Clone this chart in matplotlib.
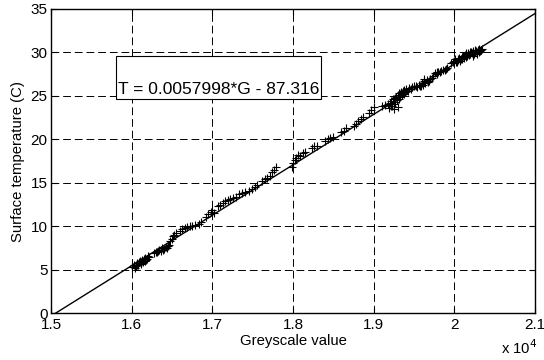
import matplotlib
matplotlib.use("Agg")
import matplotlib.pyplot as plt
from matplotlib.patches import Rectangle

plt.rcParams['font.family'] = ['Liberation Sans', 'DejaVu Sans']

# Fit coefficients
slope = 0.0057998
intercept = -87.316
fit_g = [15000, 21000]

# Measured points (greyscale value, temperature)
g_vals = [
    16010, 16030, 16050, 16060, 16080, 16090, 16100, 16120, 16130, 16150,
    16160, 16170, 16190, 16200, 16210, 16040, 16070, 16110, 16140, 16180,
    16280, 16300, 16320, 16340, 16360, 16380, 16400, 16420, 16440, 16460,
    16330, 16390, 16450,
    16480, 16500, 16510, 16530, 16550,
    16600, 16630, 16660, 16690, 16720, 16750, 16790, 16830, 16860,
    16920, 16950, 16980, 17000, 17020,
    17070, 17100, 17130, 17160, 17190, 17220, 17260, 17290,
    17330, 17370, 17410, 17450, 17490, 17530, 17550,
    17620, 17650, 17680, 17710, 17740, 17770, 17790,
    17990, 18000, 18020, 18040, 18060, 18090, 18120, 18150,
    18230, 18260, 18300,
    18400, 18430, 18460, 18500,
    18600, 18630, 18660,
    18750, 18780, 18810, 18840, 18870,
    18940, 18970, 19000,
    19100, 19140, 19180,
    19190, 19200, 19210, 19220, 19230, 19240, 19250, 19260, 19270, 19280,
    19290, 19300, 19310, 19320, 19330, 19340, 19350, 19360, 19370, 19380,
    19390, 19400, 19420, 19440, 19460, 19480, 19500, 19520, 19250, 19300,
    19540, 19560, 19580, 19600, 19610, 19620, 19640, 19660, 19680, 19700,
    19720, 19740, 19590, 19630, 19670,
    19760, 19780, 19800, 19820, 19840, 19860, 19880, 19900, 19910, 19790,
    19960, 19980, 20000, 20010, 20020, 20040, 20050, 20060, 20080, 20090,
    20100, 20110, 20120, 20130, 20140, 20150, 20160, 20170, 20180, 20190,
    20200, 20210, 20220, 20230, 20240, 20250, 20260, 20270, 20280, 20290,
    20300, 20310, 20320, 20330, 20340, 20030, 20070, 20150, 20230, 20280,
]
t_vals = [
    5.3, 5.5, 5.4, 5.8, 5.6, 5.9, 6.0, 5.7, 6.1, 6.2,
    6.0, 6.4, 6.3, 6.6, 6.5, 5.2, 5.5, 5.8, 5.9, 6.1,
    6.9, 7.1, 7.0, 7.3, 7.2, 7.5, 7.4, 7.6, 7.5, 7.9,
    7.2, 7.3, 7.7,
    8.3, 8.6, 8.9, 9.0, 9.2,
    9.5, 9.7, 9.8, 9.9, 10.0, 10.0, 10.1, 10.3, 10.5,
    11.1, 11.4, 11.6, 11.9, 11.5,
    12.3, 12.5, 12.7, 12.9, 13.0, 13.1, 13.3, 13.4,
    13.7, 13.8, 14.0, 14.1, 14.3, 14.5, 14.7,
    15.2, 15.4, 15.6, 15.8, 16.2, 16.5, 16.8,
    16.8, 17.3, 17.6, 17.9, 18.2, 18.1, 18.4, 18.6,
    19.0, 19.2, 19.3,
    19.8, 20.0, 20.2, 20.3,
    20.9, 21.0, 21.3,
    21.5, 21.8, 22.1, 22.3, 22.6,
    23.0, 23.4, 23.7,
    23.9, 24.0, 24.1,
    23.6, 24.2, 23.8, 24.4, 23.9, 24.6, 24.1, 24.8, 24.3, 24.9,
    24.5, 25.1, 24.7, 25.3, 24.9, 25.4, 25.1, 25.6, 25.2, 25.7,
    25.4, 25.8, 25.6, 25.9, 25.8, 26.0, 26.1, 26.2, 23.5, 23.7,
    26.0, 26.3, 26.1, 26.5, 26.3, 26.7, 26.5, 26.8, 26.7, 27.0,
    27.1, 27.3, 26.2, 26.9, 26.6,
    27.6, 27.7, 27.8, 27.8, 27.9, 28.0, 28.0, 28.1, 28.2, 27.5,
    28.8, 28.9, 29.0, 29.2, 28.9, 29.3, 29.1, 29.4, 29.2, 29.5,
    29.3, 29.6, 29.4, 29.7, 29.5, 29.8, 29.6, 29.9, 29.7, 30.0,
    29.8, 30.1, 29.9, 30.2, 29.8, 30.3, 30.0, 30.2, 29.9, 30.3,
    30.1, 30.4, 30.2, 30.3, 30.4, 28.9, 29.0, 29.9, 29.6, 29.8,
]

x_ticks = [15000, 16000, 17000, 18000, 19000, 20000, 21000]
x_tick_labels = ['1.5', '1.6', '1.7', '1.8', '1.9', '2', '2.1']
y_ticks = [0, 5, 10, 15, 20, 25, 30, 35]

fig = plt.figure(figsize=(5.44, 3.6), dpi=100)
ax = fig.add_axes([51 / 544, (360 - 313.3) / 360, 484 / 544, 304.3 / 360])

fit_t = [slope * g + intercept for g in fit_g]
ax.plot(g_vals, t_vals, '+', color='black', markersize=5.5, markeredgewidth=0.8, zorder=3)
ax.plot(fit_g, fit_t, '-', color='black', linewidth=1.0, zorder=4)

ax.set_xlim(15000, 21000)
ax.set_ylim(0, 35)
ax.set_xticks(x_ticks)
ax.set_xticklabels(x_tick_labels)
ax.set_yticks(y_ticks)
ax.tick_params(direction='in', top=True, right=True, length=4, width=0.8,
               labelsize=11, colors='black')
ax.tick_params(axis='x', pad=3.5)
ax.tick_params(axis='y', pad=2.5)
ax.grid(True, color='black', linestyle=(0, (8, 4)), linewidth=0.7)
for s in ax.spines.values():
    s.set_linewidth(1.0)
    s.set_color('black')

ax.set_xlabel('Greyscale value', fontsize=10.7, labelpad=1)
ax.set_ylabel('Surface temperature (C)', fontsize=10.7, labelpad=4)
fig.text(501 / 544, 1 - 348 / 360, r'x 10$^{4}$', fontsize=10.7, ha='left', va='center')

rect = Rectangle((15800, 24.6), 18353 - 15800, 29.6 - 24.6,
                 facecolor='white', edgecolor='black', linewidth=0.8, zorder=5)
ax.add_patch(rect)
ax.text(15830, 25.2, 'T = 0.0057998*G - 87.316', fontsize=12.5, ha='left',
        va='baseline', zorder=6)

fig.savefig('out.png', dpi=100)
